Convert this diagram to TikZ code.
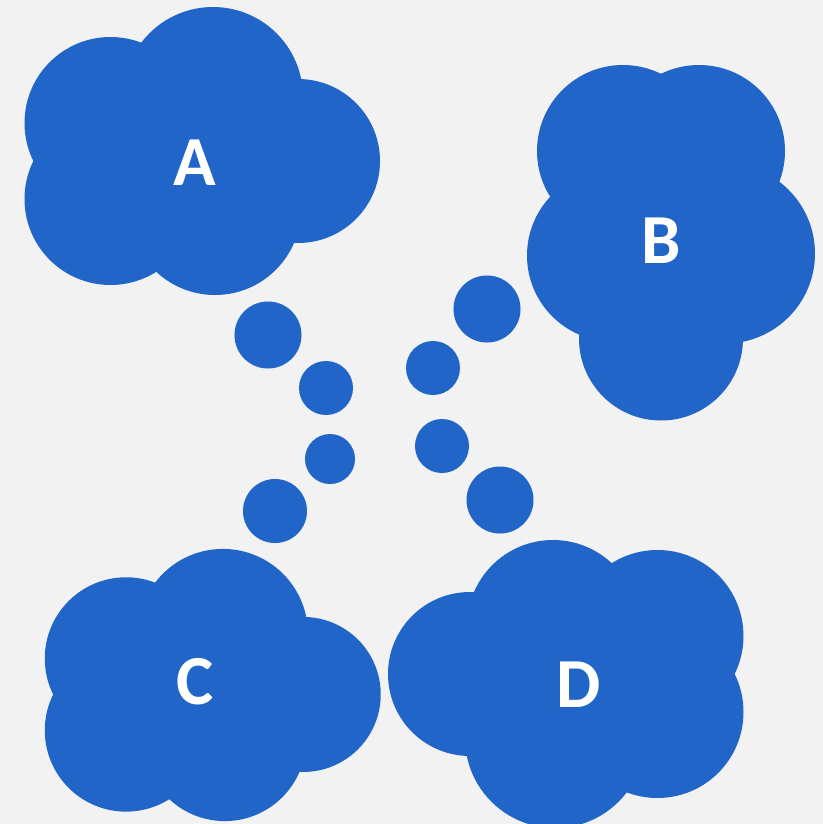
\documentclass[tikz,border=0pt]{standalone}
\usepackage{fontspec}
\setmainfont{Carlito}
\definecolor{cloudblue}{HTML}{2065C7}
\definecolor{paper}{HTML}{F2F2F2}
\begin{document}
\begin{tikzpicture}[
		x=0.025cm, y=-0.025cm,
		puffs/.pic={
				\fill[cloudblue] (10.5,-54) circle (90);
				\fill[cloudblue] (12.5,58) circle (86);
				\fill[cloudblue] (-92,-28) circle (86);
				\fill[cloudblue] (-92,48) circle (86);
				\fill[cloudblue] (95.5,10) circle (82);
			},
		letter/.style={text=white, font=\fontsize{50}{60}\selectfont\bfseries, inner sep=0pt},
		bubble/.style={circle, fill=cloudblue, inner sep=0pt}
	]
	\fill[paper] (0,0) rectangle (823,824);
	\useasboundingbox (0,0) rectangle (823,824);

	% clouds
	\pic at (202.5,151) {puffs};
	\pic[rotate=-90] at (671,243) {puffs};
	\pic[scale=0.945] at (213,685) {puffs};
	\pic[rotate=180] at (565.5,684) {puffs};

	\node[letter] (A) at (195,163) {A};
	\node[letter] (B) at (661,241) {B};
	\node[letter] (C) at (195,682) {C};
	\node[letter] (D) at (579,685) {D};

	% thought bubbles
	\node[bubble, minimum size=1.675cm] (a1) at (268,335) {};
	\node[bubble, minimum size=1.35cm] (a2) at (326,388) {};
	\node[bubble, minimum size=1.675cm] (b1) at (487,309) {};
	\node[bubble, minimum size=1.35cm] (b2) at (433,368) {};
	\node[bubble, minimum size=1.6cm] (c1) at (275,511) {};
	\node[bubble, minimum size=1.25cm] (c2) at (330,459) {};
	\node[bubble, minimum size=1.675cm] (d1) at (500,500) {};
	\node[bubble, minimum size=1.35cm] (d2) at (442,446) {};
\end{tikzpicture}
\end{document}
